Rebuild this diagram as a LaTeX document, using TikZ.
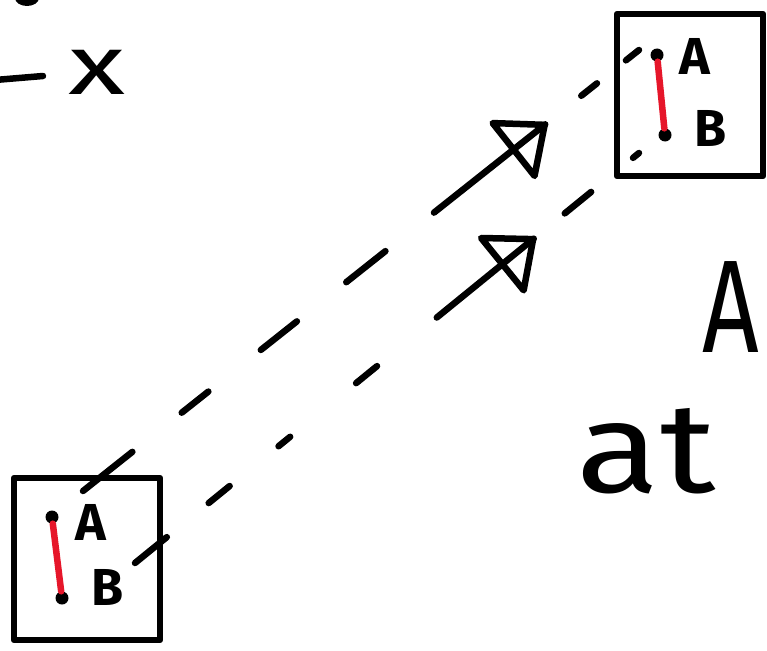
\documentclass[tikz,border=0pt]{standalone}
\usepackage{fontspec}
\setmainfont{Fira Sans}
\usetikzlibrary{arrows.meta,decorations.markings}
\definecolor{inkred}{RGB}{230,22,42}

\begin{document}
\begin{tikzpicture}[x=1pt,y=-1pt,
   pen/.style={line width=6.5pt,line cap=round,line join=round},
   frame/.style={pen,draw,minimum width=146pt,minimum height=162pt,inner sep=0pt},
   pt/.style={circle,fill,inner sep=0pt,minimum size=13pt},
   lbl/.style={font=\fontsize{52}{52}\selectfont\bfseries,inner sep=0pt},
   big/.style={font=\fontsize{#1}{#1}\selectfont,inner sep=0pt},
   bond/.style={pen,draw=inkred},
   head/.style={postaction={decorate,decoration={markings,
      mark=at position #1 with {\arrow{Triangle[open,round,length=48pt,width=80pt]}}}}}]
  \useasboundingbox (0,0) rectangle (767,650);
  % the two boxes
  \node[frame] (L) at (87,559) {};
  \node[frame] (R) at (690,95) {};
  \node[pt] (LA) at (52,517) {};
  \node[pt] (LB) at (62,598) {};
  \node[pt] (RA) at (657,55) {};
  \node[pt] (RB) at (665,135) {};
  \draw[bond] (LA) -- (LB);
  \draw[bond] (RA) -- (RB);
  \node[lbl] (LAt) at (91,522) {A};
  \node[lbl] (LBt) at (108,587) {B};
  \node[lbl] (RAt) at (695,56) {A};
  \node[lbl] (RBt) at (711,128) {B};
  % dashed links
  \coordinate (a0) at (83,491);
  \coordinate (a1) at (639,50);
  \coordinate (b0) at (135,563);
  \coordinate (b1) at (639,153);
  \draw[pen,head=0.835,dash pattern=on 63pt off 63pt on 34pt off 67pt on 46pt off 63pt
     on 50pt off 62pt on 142pt off 46pt on 20pt off 37pt on 18pt off 60pt] (a0) -- (a1);
  \draw[pen,head=0.795,dash pattern=on 41pt off 54pt on 27pt off 63pt on 15pt off 85pt
     on 27pt off 77pt on 125pt off 40pt on 34pt off 54pt on 9pt off 60pt] (b0) -- (b1);
  % loose writing
  \node[big=132,xscale=0.75] (bigA) at (731,307) {A};
  \node[big=128,xscale=1.2] (at) at (646,451) {at};
  \node[big=84,xscale=1.4] (x) at (97,72) {x};
  \draw[pen] (-5,80) -- (43,76);
  \fill (27,-2) ellipse [x radius=12pt,y radius=8pt];
 \end{tikzpicture}
\end{document}
